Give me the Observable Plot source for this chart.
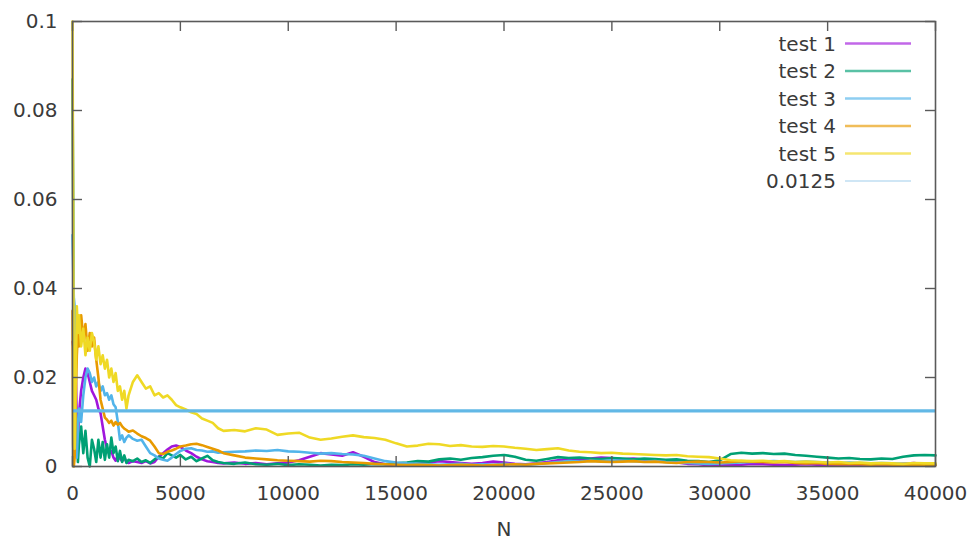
<!DOCTYPE html>
<html>
<head>
<meta charset="utf-8">
<script src="https://cdn.jsdelivr.net/npm/d3@7"></script>
<script src="https://cdn.jsdelivr.net/npm/@observablehq/plot@0.6"></script>
<style>
  html, body { margin: 0; padding: 0; background: #fff; }
  #chart { width: 973px; height: 546px; }
</style>
</head>
<body>
<div id="chart"></div>
<script>
// ---- data ----
const N = [0,30,60,100,150,200,250,300,
  400,500,600,700,800,900,1000,1100,1200,1300,1400,1500,1600,1700,1800,1900,2000,2100,2200,2300,2400,2500,2600,
  2800,3000,3200,3400,3600,3800,4000,4200,4400,4600,4800,
  5000,5250,5500,5750,6000,6250,6500,6750,7000,
  7500,8000,8500,9000,9500,10000,10500,11000,11500,12000,
  12500,13000,13500,14000,14500,15000,15500,16000,16500,17000,
  17500,18000,18500,19000,19500,20000,20500,21000,21500,22000,
  22500,23000,23500,24000,24500,25000,25500,26000,26500,27000,
  27500,28000,28500,29000,29500,30000,30500,31000,31500,32000,
  32500,33000,33500,34000,34500,35000,35500,36000,36500,37000,
  37500,38000,38500,39000,39500,40000];

const test1 = [0.028,0.027,0.020,0.026,0.021,0.010,0.004,0.012,
  0.017,0.020,0.022,0.021,0.019,0.017,0.016,0.015,0.013,0.012,0.009,0.006,0.004,0.003,0.0035,0.002,0.0013,0.0025,0.0018,0.0012,0.0020,0.0010,0.0008,
  0.0012,0.0010,0.0008,0.0012,0.0007,0.0010,0.0022,0.0030,0.0038,0.0045,0.0047,
  0.0044,0.0036,0.0030,0.0022,0.0016,0.0012,0.0010,0.0008,0.0007,
  0.0009,0.0006,0.0008,0.0005,0.0007,0.0009,0.0014,0.0022,0.0030,0.0027,
  0.0024,0.0032,0.0022,0.0010,0.0005,0.0003,0.0004,0.0006,0.0009,0.0012,
  0.0010,0.0008,0.0006,0.0008,0.0011,0.0009,0.0006,0.0005,0.0007,0.0010,
  0.0014,0.0017,0.0015,0.0018,0.0020,0.0019,0.0016,0.0018,0.0015,0.0013,
  0.0011,0.0009,0.0006,0.0005,0.0003,0.0002,0.0003,0.0004,0.0006,0.0005,
  0.0004,0.0003,0.0004,0.0005,0.0004,0.0003,0.0002,0.0003,0.0004,0.0003,
  0.0002,0.0004,0.0006,0.0008,0.0005,0.0004];

const test2 = [0.087,0.06,0.004,0.009,0.003,0.007,0.001,0.005,
  0.009,0.003,0.008,0.002,0.0,0.006,0.004,0.001,0.006,0.002,0.0055,0.0015,0.005,0.002,0.0065,0.003,0.0045,0.0012,0.0035,0.001,0.0025,0.0008,0.0015,
  0.0012,0.0018,0.0010,0.0014,0.0008,0.0016,0.0022,0.0018,0.0030,0.0025,0.0020,
  0.0026,0.0016,0.0022,0.0012,0.0018,0.0024,0.0014,0.0010,0.0008,
  0.0006,0.0009,0.0005,0.0004,0.0006,0.0003,0.0005,0.0004,0.0002,0.0004,
  0.0003,0.0005,0.0004,0.0006,0.0005,0.0007,0.0009,0.0012,0.0011,0.0016,
  0.0018,0.0015,0.0019,0.0021,0.0024,0.0026,0.0022,0.0015,0.0013,0.0017,
  0.0021,0.0019,0.0020,0.0018,0.0017,0.0019,0.0018,0.0016,0.0018,0.0017,
  0.0015,0.0016,0.0013,0.0012,0.0010,0.0014,0.0028,0.0031,0.0029,0.0030,
  0.0028,0.0029,0.0026,0.0024,0.0022,0.0020,0.0018,0.0019,0.0017,0.0016,
  0.0018,0.0017,0.0022,0.0025,0.0026,0.0025];

const test3 = [0.052,0.045,0.038,0.036,0.012,0.002,0.008,0.013,
  0.010,0.016,0.020,0.022,0.021,0.019,0.020,0.018,0.019,0.017,0.018,0.016,0.0165,0.015,0.016,0.014,0.0133,0.010,0.006,0.007,0.0055,0.0065,0.007,
  0.0062,0.0058,0.0060,0.0045,0.0030,0.0025,0.0018,0.0015,0.0013,0.0020,0.0028,
  0.0035,0.0040,0.0041,0.0037,0.0036,0.0033,0.0034,0.0031,0.0032,
  0.0033,0.0034,0.0036,0.0035,0.0037,0.0034,0.0033,0.0031,0.0029,0.0030,
  0.0028,0.0027,0.0024,0.0018,0.0012,0.0009,0.0007,0.0006,0.0005,0.0004,
  0.0005,0.0006,0.0004,0.0005,0.0004,0.0006,0.0005,0.0004,0.0006,0.0008,
  0.0010,0.0012,0.0011,0.0013,0.0012,0.0014,0.0013,0.0012,0.0011,0.0012,
  0.0010,0.0009,0.0008,0.0007,0.0006,0.0007,0.0008,0.0009,0.0010,0.0011,
  0.0012,0.0011,0.0010,0.0011,0.0010,0.0009,0.0008,0.0009,0.0008,0.0007,
  0.0008,0.0007,0.0006,0.0007,0.0006,0.0005];

const test4 = [0.035,0.005,0.0,0.002,0.015,0.025,0.030,0.027,
  0.034,0.029,0.032,0.026,0.030,0.027,0.029,0.024,0.020,0.015,0.013,0.011,0.0105,0.0098,0.0103,0.0092,0.0100,0.0094,0.0098,0.0090,0.0085,0.0082,0.0078,
  0.0081,0.0074,0.0068,0.0064,0.0058,0.0045,0.0030,0.0028,0.0033,0.0036,0.0040,
  0.0045,0.0047,0.0050,0.0051,0.0048,0.0044,0.0040,0.0036,0.0030,
  0.0025,0.0020,0.0018,0.0016,0.0014,0.0013,0.0012,0.0011,0.0013,0.0012,
  0.0010,0.0009,0.0008,0.0006,0.0005,0.0004,0.0003,0.0004,0.0003,0.0002,
  0.0003,0.0004,0.0003,0.0002,0.0003,0.0004,0.0005,0.0004,0.0006,0.0007,
  0.0008,0.0009,0.0010,0.0012,0.0011,0.0010,0.0011,0.0012,0.0010,0.0011,
  0.0009,0.0008,0.0010,0.0011,0.0010,0.0009,0.0010,0.0012,0.0011,0.0010,
  0.0009,0.0010,0.0008,0.0007,0.0008,0.0006,0.0005,0.0006,0.0005,0.0004,
  0.0005,0.0004,0.0003,0.0004,0.0003,0.0003];

const test5 = [0.1,0.06,0.012,0.004,0.02,0.036,0.03,0.034,
  0.027,0.031,0.025,0.029,0.026,0.030,0.028,0.024,0.027,0.023,0.025,0.022,0.024,0.020,0.022,0.019,0.021,0.017,0.018,0.015,0.017,0.013,0.016,
  0.019,0.0205,0.019,0.0175,0.018,0.016,0.0165,0.0155,0.016,0.0150,0.0138,
  0.0133,0.0128,0.0122,0.0118,0.0108,0.0103,0.0098,0.0086,0.0080,
  0.0082,0.0079,0.0086,0.0083,0.0071,0.0074,0.0076,0.0065,0.0060,0.0063,
  0.0067,0.0070,0.0066,0.0064,0.0060,0.0052,0.0045,0.0047,0.0051,0.0050,
  0.0046,0.0048,0.0045,0.0044,0.0046,0.0045,0.0042,0.0040,0.0037,0.0039,
  0.0041,0.0036,0.0033,0.0032,0.0030,0.0031,0.0029,0.0028,0.0027,0.0026,
  0.0025,0.0026,0.0023,0.0022,0.0021,0.0018,0.0014,0.0013,0.0012,0.0013,
  0.0011,0.0012,0.0010,0.0011,0.0010,0.0009,0.0010,0.0008,0.0009,0.0007,
  0.0008,0.0007,0.0006,0.0008,0.0007,0.0007];

const threshold = 0.0125;
const seriesNames = ["test 1", "test 2", "test 3", "test 4", "test 5"];
const thresholdLabel = "0.0125";
const xTicks = [0, 5000, 10000, 15000, 20000, 25000, 30000, 35000, 40000];
const xTickLabels = ["0", "5000", "10000", "15000", "20000", "25000", "30000", "35000", "40000"];
const yTicks = [0, 0.02, 0.04, 0.06, 0.08, 0.1];
const yTickLabels = ["0", "0.02", "0.04", "0.06", "0.08", "0.1"];
const xLabel = "N";

// ---- styling ----
const colors = ["#a016dc", "#00a074", "#52b4ea", "#e89a00", "#efd925"];
const ruleColor = "#62b8e6";
const frameColor = "#5a5a5a";
const textColor = "#3a3a3a";

const allSeries = [test1, test2, test3, test4, test5];
const tables = allSeries.map((vals, i) => vals.map((v, j) => ({N: N[j], v, series: seriesNames[i]})));

const W = 973, H = 546;
const mL = 72, mR = 38, mT = 21, mB = 80;
const frameH = H - mT - mB, frameW = W - mL - mR;
const tickLen = 10;

const chart = Plot.plot({
  width: W,
  height: H,
  marginLeft: mL,
  marginRight: mR,
  marginTop: mT,
  marginBottom: mB,
  style: {fontFamily: "DejaVu Sans", fontSize: "20px", color: textColor, background: "#fff", overflow: "visible"},
  x: {domain: [0, 40000]},
  y: {domain: [0, 0.1]},
  marks: [
    ...tables.map((t, i) => Plot.line(t, {x: "N", y: "v", stroke: colors[i], strokeWidth: 2.6, strokeLinejoin: "round"})),
    Plot.ruleY([threshold], {stroke: ruleColor, strokeWidth: 3.2}),
    Plot.frame({stroke: frameColor, strokeWidth: 1.6}),
    // inward ticks on all four sides
    Plot.ruleX(xTicks, {x: d => d, insetTop: frameH - tickLen, stroke: frameColor, strokeWidth: 1.4}),
    Plot.ruleX(xTicks, {x: d => d, insetBottom: frameH - tickLen, stroke: frameColor, strokeWidth: 1.4}),
    Plot.ruleY(yTicks, {y: d => d, insetRight: frameW - tickLen, stroke: frameColor, strokeWidth: 1.4}),
    Plot.ruleY(yTicks, {y: d => d, insetLeft: frameW - tickLen, stroke: frameColor, strokeWidth: 1.4}),
    Plot.axisX({ticks: xTicks, tickSize: 0, tickPadding: 19, tickFormat: (d) => xTickLabels[xTicks.indexOf(d)], label: null, fill: textColor, fontSize: 20}),
    Plot.axisY({ticks: yTicks, tickSize: 0, tickPadding: 15, tickFormat: (d) => yTickLabels[yTicks.indexOf(d)], label: null, fill: textColor, fontSize: 20}),
    Plot.text([xLabel], {text: d => d, frameAnchor: "bottom", dy: 69, fill: textColor, fontSize: 20})
  ]
});

document.getElementById("chart").appendChild(chart);

// ---- legend (inside the frame, top right) ----
const svg = d3.select(chart.tagName.toLowerCase() === "svg" ? chart : chart.querySelector("svg"));
const legendItems = seriesNames.map((name, i) => ({name, color: colors[i], width: 2.4, opacity: 0.65}))
  .concat([{name: thresholdLabel, color: "#cfe6f5", width: 2, opacity: 1}]);
const lg = svg.append("g").attr("font-family", "DejaVu Sans").attr("font-size", 20);
legendItems.forEach((d, i) => {
  const y = 43.5 + i * 27.5;
  lg.append("text").attr("x", 836).attr("y", y).attr("dy", "0.35em")
    .attr("text-anchor", "end").attr("fill", textColor).text(d.name);
  lg.append("line").attr("x1", 845).attr("x2", 911).attr("y1", y).attr("y2", y)
    .attr("stroke", d.color).attr("stroke-width", d.width).attr("stroke-opacity", d.opacity);
});
</script>
</body>
</html>
